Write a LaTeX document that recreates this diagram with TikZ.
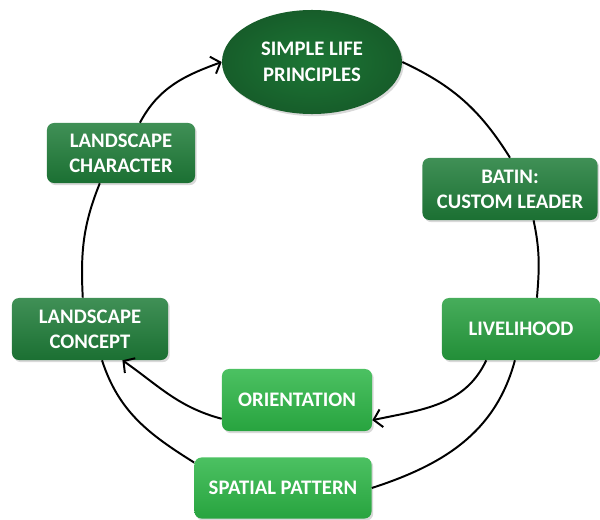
\documentclass[tikz,border=0pt]{standalone}
\usepackage{fontspec}
\setmainfont{Carlito}
\usepackage{xcolor}
\usetikzlibrary{arrows.meta,shapes.geometric,shadows}

\definecolor{darkgreen}{RGB}{30,124,56}
\definecolor{midgreen}{RGB}{38,158,62}
\definecolor{lightgreen}{RGB}{44,182,70}

\tikzset{
  box/.style={rectangle, rounded corners=5pt, inner sep=0pt, align=center,
    text=white, font=\bfseries\fontsize{14.7}{17.8}\selectfont,
    drop shadow={opacity=0.3, shadow xshift=1.2pt, shadow yshift=-1.5pt}},
  darkbox/.style={box, top color=darkgreen!85!white, bottom color=darkgreen!90!black},
  midbox/.style={box, top color=midgreen!85!white, bottom color=midgreen!90!black},
  lightbox/.style={box, top color=lightgreen!85!white, bottom color=lightgreen!90!black},
  link/.style={line width=1.4pt, black},
  arrowlink/.style={link, -{Straight Barb[length=2mm, width=4.5mm]}}
}

\begin{document}
\begin{tikzpicture}[x=0.025cm, y=-0.025cm]
        \useasboundingbox (0,0) rectangle (600,520);

        % Centre of the cycle
        \node[ellipse, inner sep=0pt, minimum width=4.5cm, minimum height=2.6cm,
              inner color=darkgreen!95!black, outer color=darkgreen!75!black,
              text=white, align=center, font=\bfseries\fontsize{14.7}{18.5}\selectfont,
              drop shadow={opacity=0.3, shadow xshift=1.2pt, shadow yshift=-1.5pt}]
              (simple) at (312,62) {SIMPLE LIFE\\PRINCIPLES};

        % Boxes round the cycle
        \node[darkbox, minimum width=3.7cm, minimum height=1.5cm] (character) at (121,153) {LANDSCAPE\\CHARACTER};
        \node[darkbox, minimum width=4.375cm, minimum height=1.55cm] (batin) at (510,189) {BATIN:\\CUSTOM LEADER};
        \node[darkbox, minimum width=3.9cm, minimum height=1.55cm] (concept) at (90,329) {LANDSCAPE\\CONCEPT};
        \node[midbox, minimum width=3.95cm, minimum height=1.55cm] (livelihood) at (521,329) {LIVELIHOOD};
        \node[lightbox, minimum width=3.75cm, minimum height=1.55cm] (orientation) at (297,400) {ORIENTATION};
        \node[lightbox, minimum width=4.425cm, minimum height=1.525cm] (spatial) at (283,488) {SPATIAL PATTERN};

        % Connectors
        \draw[arrowlink] (character.58) to[out=62, in=200] (simple.west);
        \draw[link] (simple.east) to[out=-25, in=122] (batin.north);
        \draw[link] (batin.-53) to[out=-78, in=85] (livelihood.63);
        \draw[arrowlink] (livelihood.-138) to[out=-115, in=12] (orientation.-15);
        \draw[link] (livelihood.-101) to[out=-105, in=18] (spatial.east);
        \draw[arrowlink] (orientation.194) to[out=165, in=-35] (concept.-44);
        \draw[link] (spatial.164) to[out=148, in=-72] (concept.-69);
        \draw[link] (concept.103) to[out=93, in=-112] (character.-125);
\end{tikzpicture}
\end{document}
